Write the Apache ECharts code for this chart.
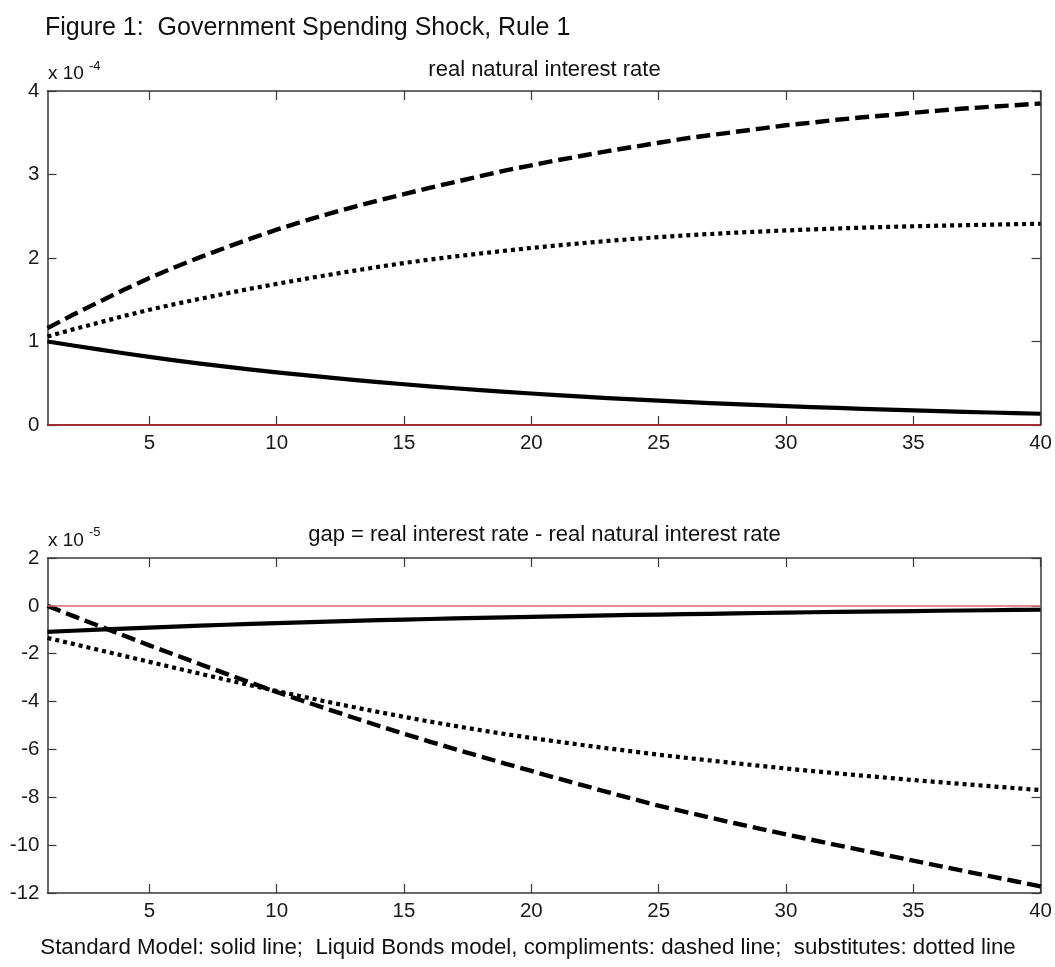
<!DOCTYPE html>
<html><head><meta charset="utf-8">
<script src="https://cdn.jsdelivr.net/npm/echarts@6/dist/echarts.min.js"></script>
<style>html,body{margin:0;padding:0;background:#fff}#c{width:1055px;height:967px}</style>
</head><body><div id="c"></div>
<script>
// Horizon (periods after shock)
const periods = [1,2,3,4,5,6,7,8,9,10,11,12,13,14,15,16,17,18,19,20,21,22,23,24,25,26,27,28,29,30,31,32,33,34,35,36,37,38,39,40];
const xTickValues = [5,10,15,20,25,30,35,40];

// Panel 1: real natural interest rate (units of 1e-4)
const natSolid  = [1.00,0.952,0.905,0.859,0.815,0.774,0.735,0.699,0.664,0.631,0.60,0.57,0.541,0.514,0.488,0.463,0.44,0.418,0.397,0.377,0.358,0.34,0.323,0.307,0.292,0.277,0.263,0.25,0.238,0.226,0.215,0.204,0.194,0.184,0.175,0.166,0.158,0.15,0.142,0.135];
const natDashed = [1.16,1.32,1.47,1.62,1.76,1.89,2.01,2.125,2.235,2.34,2.435,2.525,2.61,2.69,2.765,2.84,2.91,2.98,3.05,3.11,3.17,3.225,3.28,3.33,3.38,3.43,3.47,3.51,3.55,3.59,3.62,3.655,3.685,3.71,3.74,3.765,3.79,3.81,3.83,3.85];
const natDotted = [1.06,1.145,1.225,1.305,1.38,1.448,1.512,1.574,1.634,1.69,1.744,1.796,1.846,1.894,1.94,1.98,2.018,2.054,2.088,2.12,2.15,2.178,2.204,2.228,2.25,2.27,2.287,2.303,2.317,2.33,2.342,2.353,2.363,2.372,2.38,2.387,2.393,2.399,2.405,2.41];
const natYTicks = {min: 0, max: 4, step: 1};

// Panel 2: gap = real interest rate - real natural interest rate (units of 1e-5)
const gapSolid  = [-1.09,-1.04,-0.995,-0.95,-0.91,-0.87,-0.83,-0.79,-0.755,-0.72,-0.69,-0.66,-0.63,-0.60,-0.575,-0.55,-0.525,-0.50,-0.48,-0.46,-0.44,-0.42,-0.40,-0.38,-0.365,-0.348,-0.331,-0.315,-0.298,-0.282,-0.268,-0.254,-0.241,-0.228,-0.216,-0.205,-0.194,-0.183,-0.172,-0.162];
const gapDashed = [0,-0.42,-0.83,-1.24,-1.65,-2.045,-2.44,-2.83,-3.22,-3.6,-3.96,-4.315,-4.665,-5.01,-5.35,-5.67,-5.985,-6.295,-6.6,-6.9,-7.2,-7.495,-7.785,-8.07,-8.35,-8.6,-8.845,-9.085,-9.32,-9.55,-9.775,-9.997,-10.217,-10.435,-10.65,-10.866,-11.081,-11.295,-11.508,-11.72];
const gapDotted = [-1.34,-1.59,-1.84,-2.09,-2.34,-2.59,-2.838,-3.083,-3.323,-3.56,-3.79,-4.012,-4.228,-4.438,-4.64,-4.833,-5.018,-5.195,-5.363,-5.52,-5.67,-5.815,-5.955,-6.09,-6.22,-6.342,-6.46,-6.575,-6.688,-6.8,-6.9,-6.998,-7.094,-7.188,-7.28,-7.366,-7.451,-7.535,-7.618,-7.7];
const gapYTicks = {min: -12, max: 2, step: 2};

const texts = {
  title: 'Figure 1:  Government Spending Shock, Rule 1',
  sub1: 'real natural interest rate',
  sub2: 'gap = real interest rate - real natural interest rate',
  exp1: '-4', exp2: '-5',
  caption: 'Standard Model: solid line;  Liquid Bonds model, compliments: dashed line;  substitutes: dotted line'
};

const FONT = '"Liberation Sans", Arial, sans-serif';
const AX = '#3a3a3a';
const catData = periods.map(String);
const isTick = (i, v) => xTickValues.indexOf(Number(v)) >= 0;

const G = [
  {left: 47.5, top: 91, width: 994, height: 334},
  {left: 47.5, top: 558, width: 994, height: 335}
];

function xAxes(gi) {
  const base = {
    type: 'category', data: catData, boundaryGap: false, gridIndex: gi,
    axisLine: {show: true, onZero: false, lineStyle: {color: AX, width: 1.5}},
    axisTick: {show: true, inside: true, length: 9, interval: isTick, lineStyle: {color: AX, width: 1.2}},
    splitLine: {show: false}
  };
  return [
    Object.assign({}, base, {position: 'bottom',
      axisLabel: {show: true, interval: isTick, margin: 8, color: '#1a1a1a', fontFamily: FONT, fontSize: 20.5}}),
    Object.assign({}, base, {position: 'top', axisLabel: {show: false}})
  ];
}
function yAxes(gi, t) {
  const base = {
    type: 'value', gridIndex: gi, min: t.min, max: t.max, interval: t.step,
    axisLine: {show: true, onZero: false, lineStyle: {color: AX, width: 1.5}},
    axisTick: {show: true, inside: true, length: 9, lineStyle: {color: AX, width: 1.2}},
    splitLine: {show: false}
  };
  return [
    Object.assign({}, base, {position: 'left',
      axisLabel: {show: true, margin: 8, color: '#1a1a1a', fontFamily: FONT, fontSize: 20.5}}),
    Object.assign({}, base, {position: 'right', axisLabel: {show: false}})
  ];
}

function line(name, data, gi, kind, zeroColor) {
  const ls = {color: '#000', width: 4.2, type: 'solid', cap: 'butt', join: 'round'};
  if (kind === 'dashed') { ls.type = [14, 6]; ls.width = 4.4; }
  if (kind === 'dotted') { ls.type = [4, 4]; ls.width = 4.2; }
  const s = {
    name, type: 'line', data, xAxisIndex: gi * 2, yAxisIndex: gi * 2,
    showSymbol: false, symbol: 'none', lineStyle: ls, z: 3, animation: false, silent: true
  };
  if (zeroColor) {
    s.markLine = {silent: true, symbol: 'none', label: {show: false}, animation: false,
      lineStyle: {color: zeroColor, width: 1.6, type: 'solid'},
      data: [{yAxis: 0}], z: 5};
  }
  return s;
}

const chart = echarts.init(document.getElementById('c'), null, {renderer: 'canvas'});
chart.setOption({
  backgroundColor: '#fff',
  animation: false,
  grid: G,
  xAxis: xAxes(0).concat(xAxes(1)),
  yAxis: yAxes(0, natYTicks).concat(yAxes(1, gapYTicks)),
  series: [
    line('Standard', natSolid, 0, 'solid'),
    line('Compliments', natDashed, 0, 'dashed'),
    line('Substitutes', natDotted, 0, 'dotted', '#b82020'),
    line('Standard', gapSolid, 1, 'solid'),
    line('Compliments', gapDashed, 1, 'dashed'),
    line('Substitutes', gapDotted, 1, 'dotted', '#e36a6a')
  ],
  graphic: [
    {type: 'text', x: 45, y: 28, style: {text: texts.title, font: '25px ' + FONT, fill: '#111', textAlign: 'left', textVerticalAlign: 'middle'}},
    {type: 'text', x: 48, y: 74, style: {text: 'x 10', font: '19px ' + FONT, fill: '#111', textAlign: 'left', textVerticalAlign: 'middle'}},
    {type: 'text', x: 89, y: 66, style: {text: texts.exp1, font: '13px ' + FONT, fill: '#111', textAlign: 'left', textVerticalAlign: 'middle'}},
    {type: 'text', x: 544.5, y: 70, style: {text: texts.sub1, font: '22px ' + FONT, fill: '#111', textAlign: 'center', textVerticalAlign: 'middle'}},
    {type: 'text', x: 48, y: 541, style: {text: 'x 10', font: '19px ' + FONT, fill: '#111', textAlign: 'left', textVerticalAlign: 'middle'}},
    {type: 'text', x: 89, y: 532, style: {text: texts.exp2, font: '13px ' + FONT, fill: '#111', textAlign: 'left', textVerticalAlign: 'middle'}},
    {type: 'text', x: 544.5, y: 535, style: {text: texts.sub2, font: '22px ' + FONT, fill: '#111', textAlign: 'center', textVerticalAlign: 'middle'}},
    {type: 'text', x: 528, y: 948, style: {text: texts.caption, font: '22.3px ' + FONT, fill: '#111', textAlign: 'center', textVerticalAlign: 'middle'}}
  ]
});
</script></body></html>
